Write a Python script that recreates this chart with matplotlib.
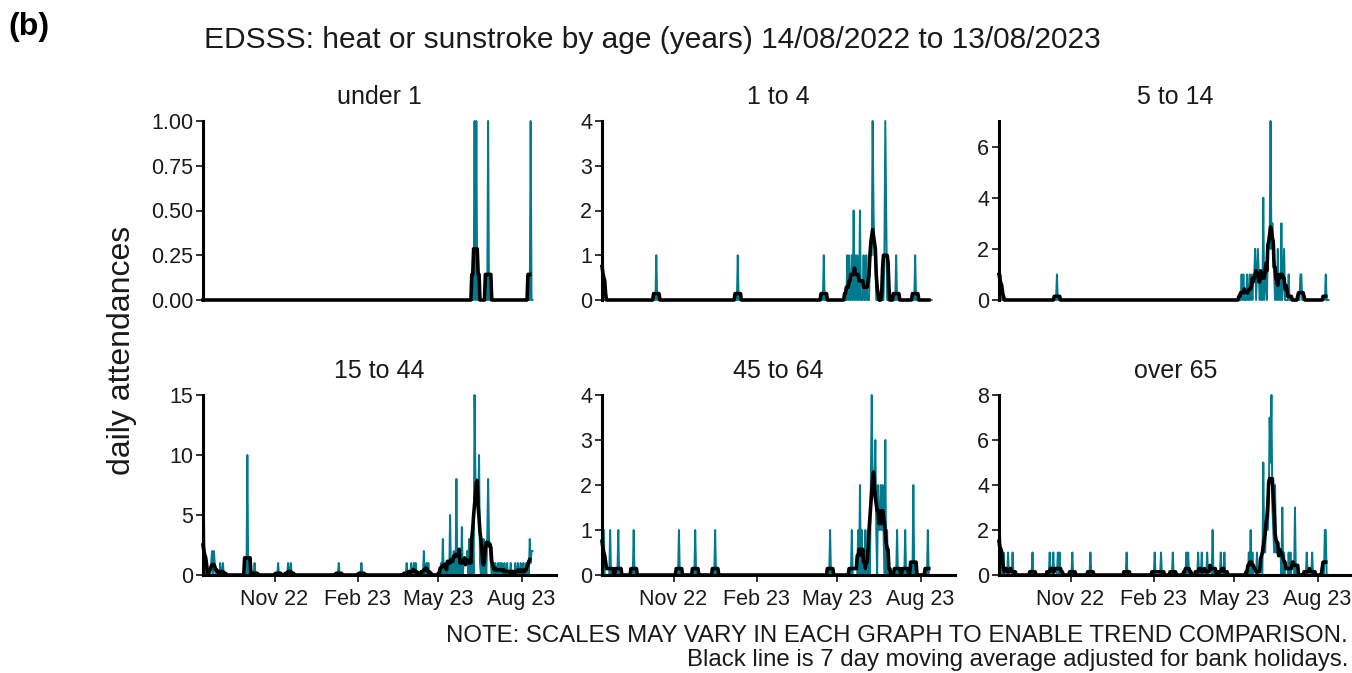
import pandas as pd
import matplotlib
matplotlib.use("Agg")
import matplotlib.pyplot as plt
import matplotlib.dates as mdates

plt.rcParams['font.family'] = ['Liberation Sans', 'DejaVu Sans']

# period shown: 14/08/2022 to 13/08/2023, one value per day
start = pd.Timestamp('2022-08-14')
dates = pd.date_range(start, '2023-08-13', freq='D')

panel_titles = ["under 1", "1 to 4", "5 to 14", "15 to 44", "45 to 64", "over 65"]
y_max = [1.0, 4, 7, 15, 4, 8]
y_ticks = [[0, 0.25, 0.5, 0.75, 1.0], [0, 1, 2, 3, 4], [0, 2, 4, 6],
           [0, 5, 10, 15], [0, 1, 2, 3, 4], [0, 2, 4, 6, 8]]

# (day number from 14/08/2022, attendances) - days not listed had none
under1_counts = [(300, 1), (302, 1), (315, 1), (362, 1)]

age1_4_counts = [(0, 2), (1, 1), (60, 1), (150, 1), (245, 1), (271, 1), (273, 1),
                 (276, 1), (278, 2), (280, 1), (282, 1), (285, 2), (289, 1), (292, 1),
                 (296, 1), (297, 1), (298, 1), (299, 4), (300, 2), (301, 1), (302, 1),
                 (312, 1), (313, 4), (314, 2), (325, 1), (346, 1)]

age5_14_counts = [(0, 2), (1, 1), (2, 1), (64, 1), (268, 1), (270, 1), (274, 1), (277, 1),
                  (279, 1), (281, 1), (282, 1), (283, 2), (285, 1), (286, 2), (287, 1),
                  (289, 1), (292, 4), (294, 1), (295, 1), (297, 2), (298, 2), (299, 2),
                  (300, 7), (301, 2), (302, 3), (303, 2), (304, 1), (306, 1), (308, 2),
                  (310, 1), (312, 3), (314, 1), (315, 2), (320, 1), (333, 1), (334, 1),
                  (361, 1)]

age15_44_counts = [(0, 4), (1, 5), (2, 1), (9, 1), (10, 2), (12, 2), (13, 1), (19, 1),
                   (22, 1), (49, 10), (57, 1), (83, 1), (94, 1), (97, 1), (150, 1),
                   (175, 1), (225, 1), (230, 1), (233, 1), (235, 1), (244, 2), (247, 1),
                   (249, 1), (263, 1), (265, 3), (267, 1), (269, 1), (271, 1), (273, 5),
                   (275, 1), (277, 2), (280, 8), (282, 2), (284, 1), (286, 4), (288, 1),
                   (289, 1), (290, 1), (291, 1), (292, 2), (294, 3), (296, 1), (298, 3),
                   (300, 15), (301, 8), (302, 8), (303, 7), (304, 6), (305, 10), (306, 1),
                   (308, 1), (310, 3), (312, 2), (314, 3), (315, 8), (316, 3), (317, 2),
                   (318, 1), (320, 1), (321, 1), (323, 1), (326, 1), (328, 1), (330, 1),
                   (333, 1), (336, 1), (340, 1), (345, 1), (348, 1), (351, 1), (354, 1),
                   (357, 1), (359, 1), (361, 3), (362, 1), (363, 2), (364, 2)]

age45_64_counts = [(0, 1), (1, 1), (2, 1), (9, 1), (18, 1), (35, 1), (85, 1), (103, 1),
                   (125, 1), (252, 1), (276, 1), (283, 1), (285, 2), (287, 1), (291, 1),
                   (295, 1), (297, 2), (298, 4), (299, 2), (300, 2), (301, 2), (302, 3),
                   (303, 1), (305, 2), (306, 1), (307, 1), (308, 2), (309, 1), (310, 2),
                   (311, 1), (313, 3), (315, 1), (326, 1), (335, 1), (344, 2), (360, 1)]

over65_counts = [(0, 3), (1, 2), (2, 1), (5, 1), (10, 1), (15, 1), (37, 1), (56, 1),
                 (60, 1), (65, 1), (67, 1), (81, 1), (101, 1), (141, 1), (172, 1),
                 (179, 1), (192, 1), (207, 1), (209, 1), (220, 1), (224, 1), (230, 1),
                 (236, 2), (245, 1), (249, 1), (276, 1), (278, 2), (280, 1), (285, 1),
                 (292, 5), (293, 1), (294, 1), (295, 2), (296, 2), (297, 2), (298, 3),
                 (299, 7), (300, 5), (301, 8), (302, 3), (303, 2), (304, 1), (305, 4),
                 (306, 1), (307, 1), (308, 1), (309, 1), (310, 1), (311, 1), (313, 3),
                 (315, 1), (320, 1), (322, 1), (327, 3), (340, 1), (346, 1), (360, 2),
                 (361, 2)]

all_counts = [under1_counts, age1_4_counts, age5_14_counts,
              age15_44_counts, age45_64_counts, over65_counts]

teal = '#007A8C'
txt = '#1a1a1a'
W, H = 1352, 673
fig = plt.figure(figsize=(W / 100, H / 100), dpi=100)

lefts = [203, 602, 999]
panel_w = 353
rows = [(121, 300), (395, 575)]  # pixel top / bottom of each row

for i, counts in enumerate(all_counts):
    r, c = divmod(i, 3)
    top, bottom = rows[r]
    ax = fig.add_axes([lefts[c] / W, 1 - bottom / H, panel_w / W, (bottom - top) / H])

    daily = pd.Series(0.0, index=dates)
    for d, v in counts:
        daily.iloc[d] = v
    # centred 7 day average, not shown for the last 3 days
    avg = daily.rolling(7, center=True, min_periods=1).mean()
    avg.iloc[-3:] = float('nan')

    ax.plot(daily.index, daily.values, color=teal, lw=1.4, clip_on=False, zorder=2)
    ax.plot(avg.index, avg.values, color='black', lw=2.6, clip_on=False, zorder=3)

    ax.set_ylim(0, y_max[i])
    ax.set_xlim(start, start + pd.Timedelta(days=390))
    ax.set_yticks(y_ticks[i])
    if i == 0:
        ax.set_yticklabels([f'{t:.2f}' for t in y_ticks[i]])
    else:
        ax.set_yticklabels([f'{t:g}' for t in y_ticks[i]])

    for s in ['top', 'right']:
        ax.spines[s].set_visible(False)
    ax.spines['left'].set_linewidth(2.2)
    ax.spines['left'].set_color('black')
    if r == 0:
        ax.spines['bottom'].set_visible(False)
        ax.set_xticks([])
    else:
        ax.spines['bottom'].set_linewidth(2.2)
        ax.spines['bottom'].set_color('black')
        ax.xaxis.set_major_locator(mdates.MonthLocator(bymonth=[2, 5, 8, 11]))
        ax.xaxis.set_major_formatter(mdates.DateFormatter('%b %y'))
    ax.tick_params(direction='out', length=5, width=1.4, color='#333333',
                   labelsize=15.5, labelcolor=txt, pad=2)
    ax.tick_params(axis='x', pad=5)

    fig.text((lefts[c] + panel_w / 2) / W, 1 - (top - 24) / H, panel_titles[i],
             ha='center', va='center', fontsize=18, color=txt)

fig.text(8 / W, 1 - 27 / H, "(b)", fontsize=23, fontweight='bold', va='center')
fig.text(204 / W, 1 - 40 / H,
         "EDSSS: heat or sunstroke by age (years) 14/08/2022 to 13/08/2023",
         fontsize=21.5, va='center', color=txt)
fig.text(122 / W, 1 - 350 / H, "daily attendances", rotation=90, fontsize=23,
         ha='center', va='center', color=txt)
fig.text(1348 / W, 1 - 636 / H,
         "NOTE: SCALES MAY VARY IN EACH GRAPH TO ENABLE TREND COMPARISON.",
         ha='right', va='center', fontsize=17.3, color=txt)
fig.text(1348 / W, 1 - 660 / H,
         "Black line is 7 day moving average adjusted for bank holidays.",
         ha='right', va='center', fontsize=17.3, color=txt)

fig.savefig('out.png', dpi=100)
